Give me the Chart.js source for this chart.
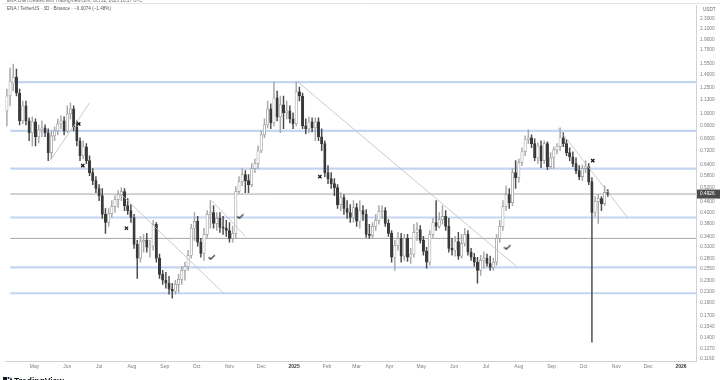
<!DOCTYPE html>
<html><head><meta charset="utf-8">
<script src="https://cdn.jsdelivr.net/npm/chart.js@4.4.1/dist/chart.umd.min.js"></script>
<style>html,body{margin:0;padding:0;background:#fff;}canvas{display:block;}</style>
</head><body>
<canvas id="c" width="720" height="380"></canvas>
<script>
// ---- data ----
const firstCandleDay = -271;   // days relative to 2025-01-01
const candleStepDays = 3;      // 3D candles
const opens = [1.021,1.164,1.304,1.374,1.195,0.936,1.067,0.936,0.843,0.928,0.814,0.865,0.880,0.843,0.708,0.821,0.857,0.912,0.936,0.857,
0.995,1.039,0.888,0.786,0.689,0.746,0.660,0.594,0.554,0.517,0.486,0.412,0.384,0.415,0.441,0.469,0.490,0.503,0.445,0.426,
0.401,0.317,0.281,0.325,0.328,0.309,0.312,0.378,0.281,0.2437,0.2313,0.2253,0.2138,0.2101,0.2233,0.2333,0.2524,0.2615,0.288,0.365,
0.388,0.323,0.293,0.346,0.412,0.419,0.381,0.398,0.368,0.365,0.358,0.334,0.349,0.503,0.549,0.584,0.554,0.535,0.616,0.643,
0.720,0.828,0.904,1.039,0.920,1.144,0.969,1.076,1.004,1.021,0.952,0.912,1.206,1.164,0.896,0.873,0.928,0.880,0.928,0.814,
0.766,0.594,0.564,0.540,0.521,0.449,0.478,0.434,0.419,0.401,0.438,0.388,0.426,0.412,0.346,0.343,0.371,0.391,0.423,0.426,
0.381,0.349,0.283,0.314,0.334,0.286,0.334,0.283,0.291,0.352,0.361,0.328,0.298,0.271,0.346,0.384,0.371,0.394,0.405,0.371,
0.306,0.301,0.325,0.286,0.320,0.346,0.296,0.283,0.271,0.2524,0.2755,0.281,0.268,0.2592,0.271,0.334,0.371,0.441,0.490,0.457,
0.594,0.569,0.649,0.714,0.793,0.807,0.766,0.677,0.752,0.660,0.766,0.626,0.677,0.726,0.746,0.807,0.766,0.708,0.683,0.643,
0.605,0.574,0.616,0.626,0.549,0.419,0.461,0.473,0.453,0.500];
const highs = [1.237,1.486,1.539,1.473,1.237,1.114,1.114,0.961,0.969,0.952,0.904,0.936,0.904,0.873,0.857,0.888,0.952,0.977,0.969,1.067,
1.095,1.067,0.936,0.807,0.786,0.766,0.689,0.616,0.574,0.535,0.517,0.434,0.434,0.465,0.486,0.508,0.521,0.517,0.473,0.449,
0.412,0.328,0.340,0.346,0.349,0.328,0.391,0.384,0.291,0.2524,0.248,0.2395,0.2253,0.2313,0.2437,0.2615,0.271,0.301,0.378,0.419,
0.405,0.334,0.365,0.426,0.465,0.445,0.419,0.419,0.405,0.391,0.384,0.371,0.526,0.574,0.616,0.605,0.584,0.643,0.671,0.752,
0.857,0.952,1.114,1.086,1.315,1.216,1.164,1.164,1.114,1.067,1.004,1.315,1.259,1.195,0.952,0.969,0.961,0.961,0.961,0.873,
0.786,0.632,0.594,0.564,0.535,0.499,0.490,0.465,0.449,0.465,0.453,0.465,0.445,0.430,0.378,0.384,0.412,0.445,0.445,0.438,
0.394,0.358,0.328,0.352,0.349,0.346,0.346,0.306,0.378,0.384,0.374,0.340,0.309,0.358,0.398,0.465,0.419,0.445,0.426,0.398,
0.334,0.340,0.352,0.346,0.365,0.358,0.306,0.293,0.283,0.288,0.296,0.291,0.286,0.281,0.346,0.391,0.465,0.530,0.517,0.616,
0.660,0.671,0.739,0.821,0.865,0.828,0.800,0.772,0.786,0.786,0.779,0.708,0.746,0.766,0.880,0.843,0.793,0.739,0.714,0.677,
0.632,0.637,0.660,0.643,0.569,0.482,0.490,0.482,0.530,0.512];
const lows = [0.896,1.067,1.216,1.164,0.904,0.912,0.904,0.786,0.752,0.752,0.772,0.814,0.814,0.660,0.671,0.786,0.828,0.873,0.828,0.843,
0.952,0.857,0.752,0.660,0.671,0.643,0.579,0.535,0.499,0.465,0.398,0.349,0.371,0.401,0.419,0.438,0.465,0.426,0.412,0.384,
0.306,0.2353,0.271,0.296,0.296,0.283,0.301,0.271,0.2353,0.2233,0.2157,0.2047,0.1977,0.2047,0.2083,0.2233,0.2313,0.2524,0.281,0.328,
0.312,0.283,0.2755,0.337,0.365,0.365,0.358,0.352,0.346,0.340,0.323,0.323,0.334,0.495,0.530,0.499,0.499,0.526,0.594,0.616,
0.708,0.807,0.880,0.873,0.896,0.936,0.843,0.873,0.952,0.920,0.873,0.896,1.114,0.873,0.835,0.843,0.850,0.786,0.786,0.720,
0.574,0.540,0.517,0.486,0.434,0.426,0.412,0.398,0.384,0.384,0.371,0.365,0.391,0.337,0.334,0.334,0.358,0.378,0.398,0.371,
0.340,0.271,0.2524,0.301,0.271,0.2755,0.273,0.268,0.283,0.328,0.320,0.288,0.257,0.2638,0.337,0.358,0.365,0.378,0.358,0.296,
0.288,0.286,0.278,0.281,0.312,0.288,0.2755,0.2615,0.2253,0.2416,0.257,0.2615,0.2524,0.2524,0.2638,0.323,0.358,0.426,0.434,0.445,
0.517,0.545,0.632,0.689,0.766,0.739,0.660,0.643,0.621,0.643,0.610,0.616,0.616,0.701,0.720,0.746,0.689,0.660,0.626,0.589,
0.559,0.554,0.594,0.535,0.1344,0.405,0.381,0.426,0.445,0.482];
const closes = [1.164,1.327,1.374,1.195,0.936,1.067,0.936,0.843,0.928,0.814,0.865,0.880,0.843,0.708,0.821,0.857,0.912,0.936,0.857,0.995,
1.039,0.888,0.786,0.689,0.746,0.660,0.594,0.554,0.517,0.486,0.412,0.384,0.415,0.441,0.469,0.490,0.503,0.445,0.426,0.401,
0.317,0.281,0.325,0.328,0.309,0.312,0.378,0.281,0.2437,0.2313,0.2253,0.2138,0.2101,0.2233,0.2333,0.2524,0.2615,0.288,0.365,0.388,
0.323,0.293,0.346,0.412,0.419,0.381,0.398,0.368,0.365,0.358,0.334,0.349,0.503,0.549,0.584,0.554,0.535,0.616,0.643,0.720,
0.828,0.904,1.039,0.920,1.144,0.969,1.076,1.004,1.021,0.952,0.912,1.206,1.164,0.896,0.873,0.928,0.880,0.928,0.814,0.766,
0.594,0.564,0.540,0.521,0.449,0.478,0.434,0.419,0.401,0.438,0.388,0.426,0.412,0.346,0.343,0.371,0.391,0.423,0.426,0.381,
0.349,0.283,0.314,0.334,0.286,0.334,0.283,0.291,0.352,0.361,0.328,0.298,0.271,0.346,0.384,0.371,0.394,0.405,0.371,0.306,
0.301,0.325,0.286,0.320,0.346,0.296,0.283,0.271,0.2524,0.2755,0.281,0.268,0.2592,0.271,0.334,0.371,0.441,0.490,0.457,0.594,
0.569,0.649,0.714,0.793,0.807,0.766,0.677,0.752,0.660,0.766,0.626,0.677,0.726,0.746,0.807,0.766,0.708,0.683,0.643,0.605,
0.574,0.616,0.626,0.549,0.419,0.461,0.473,0.453,0.500,0.4926];
const monthTickDays = [-245,-214,-184,-153,-122,-92,-61,-31,0,31,59,90,120,151,181,212,243,273,304,334,365];
const monthTickLabels = ['May','Jun','Jul','Aug','Sep','Oct','Nov','Dec','2025','Feb','Mar','Apr','May','Jun','Jul','Aug','Sep','Oct','Nov','Dec','2026'];
const priceTicks = [2.3,2.1,1.9,1.75,1.55,1.4,1.25,1.13,1.0,0.9,0.8,0.72,0.64,0.58,0.52,0.46,0.42,0.38,0.34,0.31,0.28,0.255,0.23,0.21,0.19,0.17,0.154,0.14,0.127,0.116];
const blueLevels = [1.315,0.857,0.616,0.401,0.2592,0.2065];
const grayLevels = [0.4926,0.334];
const lastPrice = 0.4926;
const trendLines = [[-230.3,0.660,-192.9,1.095],[-162,0.486,-66.5,0.2065],[-77.7,0.465,-46,0.340],[3.7,1.315,209.7,0.2615],[249,0.880,314.6,0.401]];
const crossMarks = [[-203.2,0.912],[-199.4,0.632],[-158.2,0.365],[24.3,0.574],[281.8,0.660]];
const checkMarks = [[-77.7,0.283],[-50.6,0.405],[201.3,0.309]];
const headerLine1 = 'ENA chart created with TradingView.com, Oct 22, 2025 10:17 UTC';
const headerLine2 = 'ENA / TetherUS · 3D · Binance · −0.0074 (−1.48%)';

// ---- build ----
const X_MIN = -272.5, X_MAX = 379.2, Y_MIN = 0.114, Y_MAX = 2.577, LEVEL_START = -267.8;
const days = opens.map((_, i) => firstCandleDay + i * candleStepDays);
const isUp = opens.map((o, i) => closes[i] >= o);
const UP_FILL = '#ffffff', UP_EDGE = '#959595', DN = '#3a3a3a';

const bodyData = days.map((d, i) => ({x: d, y: [opens[i], closes[i]]}));
const wickData = days.map((d, i) => ({x: d, y: [lows[i], highs[i]]}));

function makeCheck() {
  const c = document.createElement('canvas'); c.width = 8; c.height = 6;
  const g = c.getContext('2d'); g.strokeStyle = '#222'; g.lineWidth = 1.2;
  g.beginPath(); g.moveTo(0.8, 3); g.lineTo(2.8, 5); g.lineTo(7, 0.8); g.stroke();
  return c;
}

const datasets = [
  {type:'scatter', data: crossMarks.map(p => ({x:p[0], y:p[1]})), pointStyle:'crossRot', pointRadius:2.3, borderColor:'#1a1a1a', borderWidth:1.3, order:0},
  {type:'scatter', data: checkMarks.map(p => ({x:p[0], y:p[1]})), pointStyle: makeCheck(), pointRadius:3, order:0},
  ...trendLines.map(t => ({type:'line', data:[{x:t[0], y:t[1]}, {x:t[2], y:t[3]}], borderColor:'#bdbdbd', borderWidth:0.8, pointRadius:0, order:1})),
  {type:'bar', data: bodyData, grouped:false, barThickness:2.4, minBarLength:0.8, borderSkipped:false,
   backgroundColor: isUp.map(u => u ? UP_FILL : DN), borderColor: isUp.map(u => u ? UP_EDGE : DN), borderWidth:0.7, order:2},
  {type:'bar', data: wickData, grouped:false, barThickness:0.8, borderSkipped:false,
   backgroundColor: isUp.map(u => u ? '#a8a8a8' : '#4a4a4a'), borderWidth:0, order:3},
  ...grayLevels.map(v => ({type:'line', data:[{x:LEVEL_START, y:v}, {x:X_MAX, y:v}], borderColor:'#8e8e8e', borderWidth:0.8, pointRadius:0, order:4})),
  ...blueLevels.map(v => ({type:'line', data:[{x:LEVEL_START, y:v}, {x:X_MAX, y:v}], borderColor:'rgba(135,172,228,0.5)', borderWidth:2.2, pointRadius:0, order:5}))
];

const overlay = {
  id:'overlay',
  afterDraw(chart) {
    const ctx = chart.ctx, ys = chart.scales.y;
    ctx.save();
    ctx.strokeStyle = '#e3e5ea'; ctx.lineWidth = 1;
    ctx.beginPath(); ctx.moveTo(3, 3.5); ctx.lineTo(720, 3.5); ctx.stroke();
    ctx.textBaseline = 'middle'; ctx.textAlign = 'left';
    ctx.font = '4.6px "Liberation Sans", Arial, sans-serif';
    ctx.fillStyle = '#6a6a6a';
    ctx.fillText(headerLine1, 7, 0.8);
    ctx.fillStyle = '#555';
    ctx.fillText(headerLine2, 7, 8.6);
    ctx.fillStyle = '#666';
    ctx.fillText('USDT', 703, 10);
    const py = ys.getPixelForValue(lastPrice);
    ctx.fillStyle = '#4b4b4b'; ctx.fillRect(697, py - 4.5, 23, 9);
    ctx.fillStyle = '#ffffff'; ctx.font = '4.8px "Liberation Sans", Arial, sans-serif';
    ctx.fillText(lastPrice.toFixed(4), 700, py);
    // logo
    ctx.fillStyle = '#131722';
    ctx.fillRect(3, 377, 4, 4); ctx.beginPath(); ctx.arc(8.5, 378, 1.1, 0, Math.PI * 2); ctx.fill();
    ctx.beginPath(); ctx.moveTo(9.5, 381); ctx.lineTo(11, 377); ctx.lineTo(12.5, 381); ctx.fill();
    ctx.font = 'bold 8.5px "Liberation Sans", Arial, sans-serif'; ctx.textBaseline = 'alphabetic';
    ctx.fillText('TradingView', 14, 383.5);
    ctx.restore();
  }
};

const isYear = c => c.tick && /^\d{4}$/.test(monthTickLabels[monthTickDays.indexOf(c.tick.value)] || '');

new Chart(document.getElementById('c'), {
  type:'bar',
  data:{datasets},
  options:{
    responsive:false, animation:false, devicePixelRatio:1,
    layout:{padding:{top:4, left:0, right:0, bottom:0}},
    plugins:{legend:{display:false}, tooltip:{enabled:false}},
    scales:{
      x:{type:'linear', min:X_MIN, max:X_MAX, offset:false, bounds:'data',
         grid:{display:true, color:'rgba(0,0,0,0)', drawTicks:false},
         border:{display:true, color:'#cfd2d8', width:1},
         afterBuildTicks: s => { s.ticks = monthTickDays.map(v => ({value:v})); },
         afterFit: s => { s.height = 19; s.paddingLeft = 0; s.paddingRight = 0; },
         ticks:{autoSkip:false, maxRotation:0, padding:2.5,
           callback: v => monthTickLabels[monthTickDays.indexOf(v)] ?? '',
           color: c => isYear(c) ? '#333' : '#7d7d7d',
           font: c => ({size:5, family:'"Liberation Sans", Arial, sans-serif', weight: isYear(c) ? 'bold' : 'normal'})}},
      y:{type:'logarithmic', position:'right', min:Y_MIN, max:Y_MAX, bounds:'data',
         grid:{display:true, color:'rgba(0,0,0,0)', drawTicks:false},
         border:{display:true, color:'#cfd2d8', width:1},
         afterBuildTicks: s => { s.ticks = priceTicks.map(v => ({value:v})); },
         afterFit: s => { s.width = 24; s.paddingTop = 0; s.paddingBottom = 0; },
         ticks:{autoSkip:false, padding:4, color:'#7d7d7d',
           font:{size:4.8, family:'"Liberation Sans", Arial, sans-serif'},
           callback: v => Number(v).toFixed(4)}}
    }
  },
  plugins:[overlay]
});
</script>
</body></html>
